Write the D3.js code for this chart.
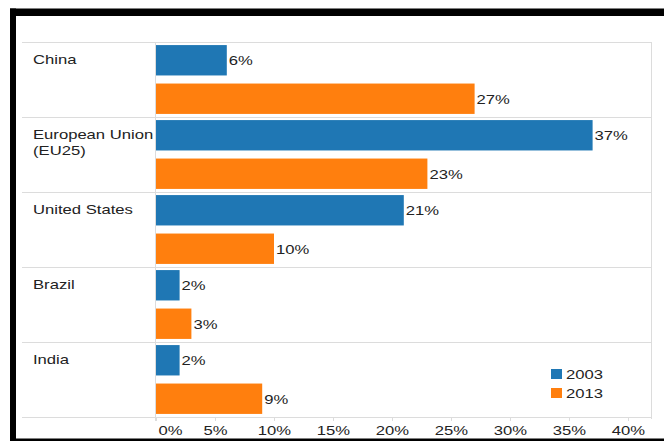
<!DOCTYPE html>
<html>
<head>
<meta charset="utf-8">
<script src="https://cdn.jsdelivr.net/npm/d3@7"></script>
<style>
  html, body { margin: 0; padding: 0; background: #fff; }
  svg { display: block; }
</style>
</head>
<body>
<svg id="chart" width="664" height="441"></svg>
<script>
// Share by region, 2003 vs 2013
const categories = ["China", "European Union|(EU25)", "United States", "Brazil", "India"];
const seriesNames = ["2003", "2013"];
const values2003 = [6, 37, 21, 2, 2];
const values2013 = [27, 23, 10, 3, 9];
const tickValues = [0, 5, 10, 15, 20, 25, 30, 35, 40];
const colors = ["#1f77b4", "#ff7f0e"];

const svg = d3.select("#chart");
const FONT = "'Liberation Sans', Arial, sans-serif";
const STRETCH = 1.28;

// Draw horizontally widened text at (x, y)
function label(g, x, y, str, anchor) {
  return g.append("g")
    .attr("transform", `translate(${x},${y}) scale(${STRETCH},1)`)
    .append("text")
    .attr("font-family", FONT)
    .attr("font-size", 13)
    .attr("fill", "#222")
    .attr("text-anchor", anchor || "start")
    .text(str);
}

const x = d3.scaleLinear().domain([0, 40]).range([156, 628]);
const y = d3.scaleBand().domain(categories).range([42, 417]);
const ySub = d3.scaleBand().domain(seriesNames).range([0, y.bandwidth()])
  .paddingInner(0.21).paddingOuter(0.08);

const grid = "#dcdcdc";

// Frame lines
svg.append("line").attr("x1", 22).attr("x2", 652).attr("y1", 42.5).attr("y2", 42.5)
  .attr("stroke", grid);
svg.append("line").attr("x1", 651.5).attr("x2", 651.5).attr("y1", 42).attr("y2", 419)
  .attr("stroke", grid);

// Category separators
svg.selectAll("line.sep").data(categories).enter().append("line")
  .attr("class", "sep")
  .attr("x1", 22).attr("x2", 652)
  .attr("y1", d => Math.round(y(d) + y.bandwidth()) + 0.5)
  .attr("y2", d => Math.round(y(d) + y.bandwidth()) + 0.5)
  .attr("stroke", grid);

// Axis at zero
svg.append("line").attr("x1", x(0) - 0.5).attr("x2", x(0) - 0.5).attr("y1", 42).attr("y2", 421)
  .attr("stroke", grid);

// Bottom axis ticks and labels
const axis = d3.axisBottom(x).tickValues(tickValues).tickSize(4).tickFormat(d => d + "%");
const axisG = svg.append("g").attr("transform", "translate(0,417)").call(axis);
axisG.select(".domain").remove();
axisG.selectAll(".tick line").attr("stroke", grid);
axisG.selectAll(".tick text").remove();
axisG.selectAll(".tick").each(function (d) {
  const t = d3.select(this);
  if (d === 0) label(t, 2, 18, d + "%", "start");
  else label(t, 0, 18, d + "%", "middle");
});

// Bars
const rows = categories.map((c, i) => ({ cat: c, vals: [values2003[i], values2013[i]] }));
const groups = svg.selectAll("g.row").data(rows).enter().append("g")
  .attr("class", "row")
  .attr("transform", d => `translate(0,${y(d.cat)})`);

groups.each(function (d) {
  const g = d3.select(this);
  seriesNames.forEach((s, j) => {
    const v = d.vals[j];
    g.append("rect")
      .attr("x", x(0))
      .attr("y", ySub(s))
      .attr("width", x(v) - x(0))
      .attr("height", ySub.bandwidth())
      .attr("fill", colors[j]);
    label(g, x(v) + 2, ySub(s) + ySub.bandwidth() / 2 + 5, v + "%", "start");
  });
  // Category label (may wrap onto a second line)
  const lines = d.cat.split("|");
  const baseY = ySub(seriesNames[0]) + ySub.bandwidth() / 2 + 4;
  lines.forEach((ln, k) => label(g, 33, baseY + k * 16, ln, "start"));
});

// Legend
const legend = svg.append("g");
seriesNames.forEach((s, j) => {
  legend.append("rect").attr("x", 551).attr("y", 369 + j * 19).attr("width", 11).attr("height", 10)
    .attr("fill", colors[j]);
  label(legend, 566, 379 + j * 18.5, s, "start");
});

// Black border
svg.append("rect").attr("x", 10).attr("y", 8.5).attr("width", 654).attr("height", 7.5).attr("fill", "#000");
svg.append("rect").attr("x", 10).attr("y", 8.5).attr("width", 6).attr("height", 432.5).attr("fill", "#000");
svg.append("rect").attr("x", 10).attr("y", 438.5).attr("width", 654).attr("height", 2.5).attr("fill", "#000");
</script>
</body>
</html>
